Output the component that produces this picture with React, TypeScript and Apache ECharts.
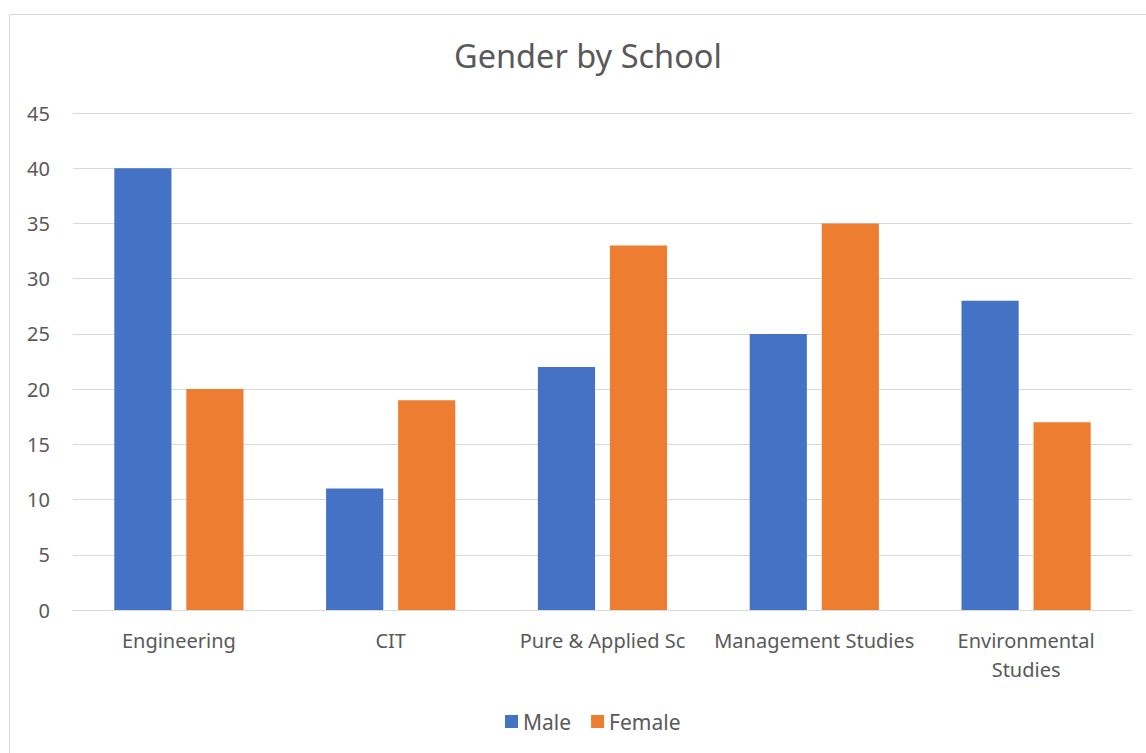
import React, { useEffect, useRef } from "react";
import * as echarts from "echarts";

const categories = ["Engineering", "CIT", "Pure & Applied Sc", "Management Studies", "Environmental Studies"];
const male = [40, 11, 22, 25, 28];
const female = [20, 19, 33, 35, 17];
const yTicks = { min: 0, max: 45, interval: 5 };

const FONT = "'Noto Sans', 'Open Sans', sans-serif";
const TEXT = "#595959";

export default function App() {
  const ref = useRef<HTMLDivElement>(null);
  useEffect(() => {
    const chart = echarts.init(ref.current!, null, { renderer: "svg" });
    chart.setOption({
      animation: false,
      backgroundColor: "#ffffff",
      textStyle: { fontFamily: FONT },
      title: {
        text: "Gender by School",
        left: 449,
        top: 34,
        textStyle: { fontFamily: FONT, fontSize: 32.5, fontWeight: "normal", color: TEXT },
      },
      graphic: [
        {
          type: "rect",
          shape: { x: 9.5, y: 14.5, width: 1160, height: 780 },
          style: { fill: "none", stroke: "#d9d9d9", lineWidth: 1 },
          silent: true,
        },
      ],
      legend: {
        bottom: 16,
        left: 500,
        itemWidth: 13,
        itemHeight: 13,
        itemGap: 20,
        icon: "rect",
        textStyle: { fontFamily: FONT, fontSize: 21, color: TEXT },
      },
      grid: { left: 73, right: 14, top: 113, bottom: 143, containLabel: false },
      xAxis: {
        type: "category",
        data: categories,
        axisLine: { lineStyle: { color: "#d9d9d9", width: 1 } },
        axisTick: { show: false },
        axisLabel: {
          interval: 0,
          margin: 16,
          fontFamily: FONT,
          fontSize: 20,
          color: TEXT,
          lineHeight: 29,
          formatter: (v: string) => (v.length > 20 ? v.replace(" ", "\n") : v),
        },
      },
      yAxis: {
        type: "value",
        min: yTicks.min,
        max: yTicks.max,
        interval: yTicks.interval,
        axisLine: { show: false },
        axisTick: { show: false },
        splitLine: { lineStyle: { color: "#d9d9d9", width: 1 } },
        axisLabel: { margin: 23, fontFamily: FONT, fontSize: 20, color: TEXT },
      },
      series: [
        {
          name: "Male",
          type: "bar",
          data: male,
          itemStyle: { color: "#4472C4" },
          barGap: "26%",
          barCategoryGap: "39%",
        },
        {
          name: "Female",
          type: "bar",
          data: female,
          itemStyle: { color: "#ED7D31" },
          barGap: "26%",
          barCategoryGap: "39%",
        },
      ],
    });
    return () => chart.dispose();
  }, []);
  return (
    <div
      ref={ref}
      style={{ position: "absolute", left: 0, top: 0, width: 1146, height: 753 }}
    />
  );
}
